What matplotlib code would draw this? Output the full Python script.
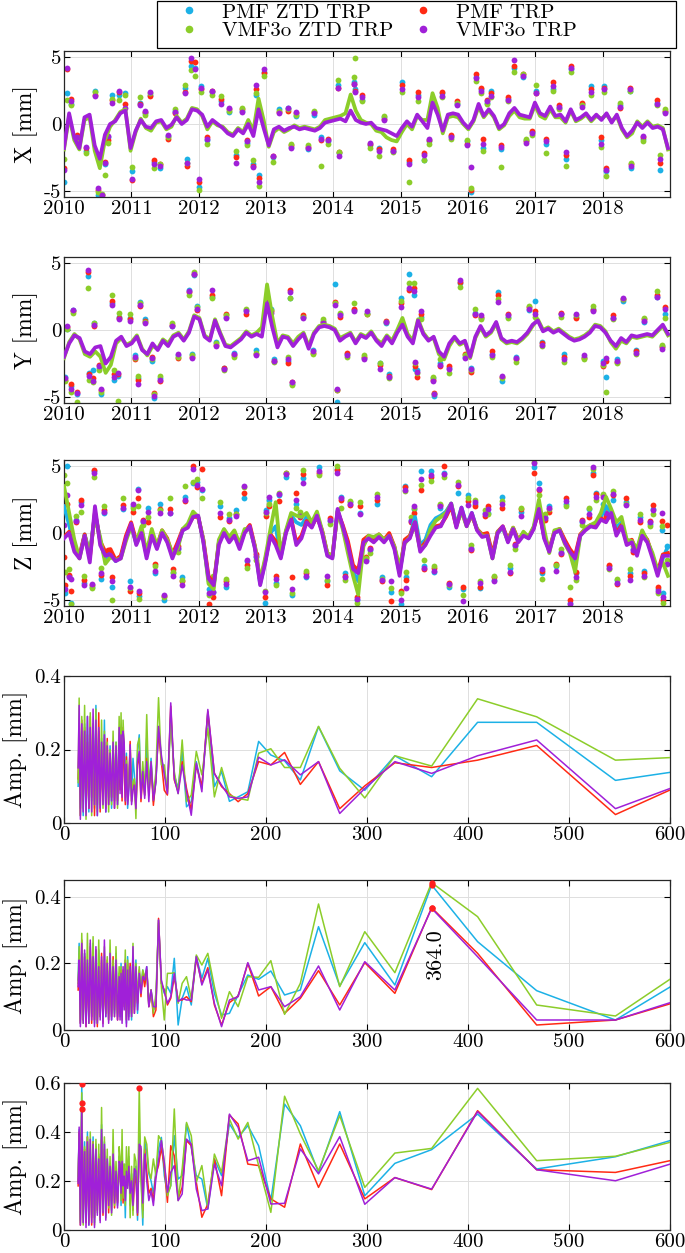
import numpy as np
import matplotlib.pyplot as plt
from matplotlib.lines import Line2D
from matplotlib.patches import Rectangle

plt.rcParams['font.family'] = ['cmr10', 'DejaVu Serif']
plt.rcParams['mathtext.fontset'] = 'cm'
plt.rcParams['axes.unicode_minus'] = False
plt.rcParams['axes.formatter.use_mathtext'] = True

SERIES = ['PMF ZTD TRP', 'PMF TRP', 'VMF3o ZTD TRP', 'VMF3o TRP']
COLORS = ['#1cb1e6', '#ff2a14', '#8ccd2a', '#a020d8']

year_ticks = [2010, 2011, 2012, 2013, 2014, 2015, 2016, 2017, 2018]
year_labels = ['2010', '2011', '2012', '2013', '2014', '2015', '2016', '2017', '2018']

# ---------------- X component: smoothed lines ----------------
x_line_purple = [
    -1.8, 0.8, -1.0, -1.8, 0.5, 0.7, -1.6, -2.6, -0.8, 0.0, 0.2, 0.8, 1.0,
    -1.8, -0.5, 0.3, -0.2, -0.3, 0.2, 0.3, -0.3, -0.05, 0.5, 0.0, 0.3, 1.1,
    1.0, 0.7, -0.2, 0.3, 0.0, -0.3, -0.7, -0.9, -0.4, -0.7, 0.0, -0.9, 1.1,
    -0.3, -1.6, -0.4, -0.2, -0.5, -0.3, -0.2, -0.4, -0.3, -0.4, -0.5, -0.3, 0.1,
    0.2, 0.3, 0.4, 0.2, 1.0, 0.3, 0.1, 0.0, 0.1, -0.3, -0.4, -0.5, -0.7, -0.9,
    -0.3, 0.2, -0.2, 0.7, 0.2, -0.3, 1.6, 0.7, -0.5, 0.7, 0.8, 0.7, 0.1,
    -0.3, 0.3, 1.5, 0.6, 1.1, 0.6, -0.3, 0.0, 0.8, 1.2, 0.7, 0.6, 0.5,
    1.6, 0.8, 0.6, 1.3, 0.6, 0.7, 0.2, 1.1, 0.3, 0.5, 0.8, 0.3, 0.7,
    0.3, 0.8, 0.1, 0.7, -0.3, -0.9, -0.5, 0.1, -0.3, 0.1, -0.3, -0.2, -0.4, -1.8]
x_line_green = [
    -1.9, 0.6, -1.2, -1.9, 0.3, 0.5, -2.0, -3.3, -1.2, -0.2, 0.3, 0.9, 1.1,
    -2.0, -0.6, 0.4, -0.3, -0.5, 0.1, 0.2, -0.4, -0.2, 0.6, 0.1, 0.4, 1.2,
    1.1, 0.6, -0.4, 0.2, -0.1, -0.2, -0.6, -0.8, -0.3, -0.6, 0.3, -0.5, 1.9,
    0.3, -1.7, -0.6, -0.3, -0.6, -0.4, -0.1, -0.3, -0.2, -0.3, -0.4, -0.2, 0.3,
    0.4, 0.5, 0.6, 0.8, 2.2, 1.0, 0.3, 0.1, 0.0, -0.5, -0.6, -1.0, -1.2, -1.3,
    -0.6, 0.0, -0.4, 0.6, 0.3, 0.3, 2.3, 1.2, -0.7, 0.5, 0.6, 0.5, 0.0,
    -0.4, 0.2, 1.3, 0.5, 1.0, 0.5, -0.4, -0.1, 0.6, 1.0, 0.5, 0.4, 0.4,
    1.4, 0.6, 0.4, 1.1, 0.5, 0.5, 0.1, 1.0, 0.2, 0.4, 0.7, 0.2, 0.6,
    0.4, 0.7, 0.2, 0.6, -0.4, -1.0, -0.7, 0.2, -0.2, 0.2, -0.2, -0.1, -0.3, -1.9]

# X component: daily solutions (scattered dots)
x_dot_t = [
    2010.00, 2010.05, 2010.10, 2010.46, 2010.51, 2010.56, 2010.61, 2010.71, 2010.81, 2010.90,
    2011.01, 2011.13, 2011.28, 2011.33, 2011.43, 2011.80, 2011.83, 2011.88, 2011.95, 2012.00,
    2012.03, 2012.20, 2012.33, 2012.55, 2012.65, 2012.80, 2012.85, 2012.90, 2012.97, 2013.10,
    2013.32, 2013.37, 2013.62, 2013.82, 2014.07, 2014.09, 2014.30, 2014.32, 2014.42, 2014.68,
    2014.88, 2015.02, 2015.12, 2015.25, 2015.35, 2015.62, 2015.84, 2015.99, 2016.04, 2016.12,
    2016.20, 2016.22, 2016.34, 2016.49, 2016.69, 2016.81, 2016.86, 2017.01, 2017.16, 2017.26,
    2017.46, 2017.53, 2017.83, 2017.98, 2018.02, 2018.05, 2018.40, 2018.42, 2018.80, 2018.85,
    2018.92,
    2010.20, 2010.33, 2010.66, 2011.20, 2011.55, 2011.65, 2012.12, 2012.45, 2012.72, 2013.20,
    2013.45, 2013.72, 2013.92, 2014.55, 2014.75, 2015.42, 2015.75, 2016.28, 2016.60, 2016.95,
    2017.35, 2017.70, 2018.25, 2018.60]
x_dot_cyan = [
    -4.3, 2.3, 1.5, 2.5, -5.3, -5.5, -3.0, 2.2, 2.2, 2.3,
    -3.5, 1.6, 2.2, -2.8, -3.3, 2.7, -2.6, 4.3, 4.2, -4.7,
    2.8, 2.4, 1.7, -2.3, 1.0, -3.0, 2.2, -3.8, 3.9, -2.5,
    1.2, -1.7, -1.9, -1.0, 2.9, -2.2, 3.1, 2.6, 1.8, -1.8,
    -2.0, 3.1, -2.8, 2.2, -2.7, 2.3, 1.5, -1.3, -5.1, 3.5,
    2.6, -1.8, 2.5, -1.9, 4.2, 3.5, -1.2, 2.5, -1.5, 2.6,
    -2.6, 4.1, 2.8, -1.2, 2.8, -3.5, 2.5, -3.3, 1.6, -3.4,
    0.9,
    -0.9, -2.0, -1.0, 0.8, -0.9, 1.0, -1.2, 0.9, -1.4, 1.1,
    0.6, 0.7, -1.3, -1.6, 0.5, -1.3, -0.9, 1.6, 1.9, -0.6,
    1.2, 1.5, 1.4, -1.1]
x_dot_red = [
    -3.3, 4.1, 1.9, 2.2, -4.9, -5.3, -2.8, 1.8, 2.4, 1.5,
    -4.2, 1.5, 2.1, -2.7, -3.0, 2.4, -3.1, 4.7, 4.6, -4.3,
    2.6, 2.5, 1.9, -2.5, 1.1, -3.1, 2.6, -4.0, 3.8, -2.4,
    1.0, -1.6, -1.7, -1.2, 2.7, -2.1, 3.0, 2.5, 2.2, -1.9,
    -1.9, 2.9, -2.7, 2.4, -2.2, 2.4, 1.7, -1.5, -4.9, 3.7,
    2.7, -1.1, 2.3, -1.6, 4.3, 3.7, -1.3, 2.3, -1.1, 3.1,
    -2.3, 4.3, 2.6, -1.0, 2.7, -3.3, 2.7, -3.0, 1.8, -2.9,
    1.0,
    -0.8, -1.8, -1.2, 0.9, -1.1, 0.8, -1.0, 1.1, -1.2, 0.9,
    0.8, 0.9, -1.1, -1.5, 0.4, -1.2, -0.8, 1.8, 2.0, -0.5,
    1.4, 1.6, 1.2, -1.0]
x_dot_green = [
    -2.6, 1.8, 1.4, 2.4, -5.1, -5.2, -3.8, 1.9, 1.8, 2.2,
    -3.2, 2.0, 2.3, -3.3, -3.0, 2.9, -2.9, 4.0, 3.6, -4.9,
    2.4, 2.2, 2.1, -2.0, 1.2, -2.7, 2.3, -4.6, 3.6, -2.8,
    1.1, -1.5, -1.6, -3.1, 3.3, -2.1, 3.5, 4.9, 1.7, -2.4,
    -2.1, 2.4, -4.3, 1.7, -2.7, 2.0, 1.6, -1.2, -4.8, 3.2,
    2.3, -2.0, 2.0, -3.2, 3.9, 3.7, -1.1, 2.9, -2.2, 2.5,
    -3.1, 3.9, 2.2, -1.7, 2.4, -3.9, 2.5, -2.9, 1.4, -2.3,
    1.1,
    -1.2, -2.2, -1.4, 0.7, -1.0, 1.1, -1.5, 1.0, -1.6, 1.0,
    0.7, 1.0, -1.5, -1.8, 0.6, -1.5, -1.1, 1.5, 1.7, -0.8,
    1.1, 1.4, 1.6, -1.3]
x_dot_purple = [
    -3.4, 4.2, 1.7, 2.1, -4.8, -5.3, -2.9, 1.6, 2.5, 1.2,
    -4.1, 1.4, 2.4, -3.0, -3.1, 2.3, -2.9, 4.9, 4.1, -4.1,
    2.7, 2.5, 1.5, -2.9, 0.9, -3.2, 2.9, -4.3, 4.1, -2.4,
    1.2, -1.8, -1.8, -1.1, 2.7, -2.4, 3.0, 2.4, 2.0, -2.0,
    -2.0, 2.6, -3.0, 2.0, -2.3, 2.1, 1.4, -1.6, -3.2, 3.4,
    2.5, -1.5, 2.1, -1.7, 4.8, 3.6, -1.4, 2.3, -1.3, 2.8,
    -2.1, 4.2, 2.4, -1.5, 2.6, -3.4, 2.6, -3.1, 1.5, -2.6,
    0.8,
    -1.0, -1.7, -0.9, 1.0, -0.8, 0.9, -1.1, 1.2, -1.3, 0.8,
    0.9, 0.8, -1.2, -1.4, 0.3, -1.1, -1.0, 1.7, 1.8, -0.7,
    1.3, 1.3, 1.3, -0.9]

# ---------------- Y component ----------------
y_line_purple = [
    -2.0, -1.0, -0.4, -0.6, -1.6, -1.8, -1.3, -1.2, -2.5, -2.0, -0.8, -0.5, -1.2,
    -1.0, -0.5, -1.5, -1.8, -1.0, -1.5, -0.8, -1.2, -0.5, -0.3, -0.8, -0.2, 1.0,
    0.8, -0.5, -0.8, 0.7, -0.3, -1.2, -1.3, -1.0, -0.7, -0.2, -0.5, -0.3, -0.5,
    2.0, 0.2, -1.3, -0.5, -0.6, -1.2, -0.7, -0.3, -1.4, -0.3, 0.2, 0.3, 0.2,
    0.0, -0.8, -0.5, -0.3, -1.0, -0.4, -0.6, -0.2, -0.8, -1.2, -0.5, -1.0, -0.2,
    0.4, -0.5, -1.0, 0.7, -0.3, -0.8, -0.5, -1.6, -2.0, -1.0, -0.5, -1.0, -0.8,
    -2.0, -0.5, 0.3, -0.4, -0.1, 0.6, -0.6, -0.9, -0.8, -0.9, -0.6, -0.2, 0.4,
    0.7, -0.1, 0.1, -0.2, 0.0, -0.3, -0.6, -0.8, -0.7, -0.5, -0.2, 0.3, 0.2,
    -0.2, -0.8, -1.2, -0.6, -0.9, -0.4, -0.5, -0.4, -0.3, -0.4, 0.0, 0.4, -0.3]
y_line_green = [
    -2.1, -0.9, -0.3, -0.7, -1.8, -2.0, -1.6, -2.0, -3.2, -2.6, -1.0, -0.6, -1.1,
    -0.9, -0.4, -1.4, -1.9, -1.2, -1.4, -0.7, -1.0, -0.4, -0.2, -0.7, -0.1, 1.1,
    0.9, -0.4, -0.7, 0.8, -0.2, -1.1, -1.2, -0.9, -0.6, -0.1, -0.4, -0.2, 0.2,
    3.4, 1.0, -1.0, -0.4, -0.5, -1.0, -0.5, -0.2, -1.2, -0.2, 0.3, 0.4, 0.3,
    0.1, -0.6, -0.4, -0.2, -0.9, -0.3, -0.5, -0.1, -0.7, -1.0, -0.4, -0.8, 0.0,
    0.9, -0.3, -0.8, 0.8, -0.2, -0.7, -0.6, -1.8, -2.2, -1.2, -0.6, -1.1, -0.9,
    -2.1, -0.6, 0.2, -0.5, -0.2, 0.5, -0.7, -1.0, -0.9, -1.0, -0.7, -0.3, 0.3,
    0.8, 0.0, 0.2, -0.1, 0.1, -0.2, -0.5, -0.7, -0.6, -0.4, -0.1, 0.4, 0.3,
    -0.1, -0.9, -1.4, -0.8, -1.0, -0.5, -0.6, -0.5, -0.4, -0.5, -0.1, 0.3, -0.4]

y_dot_t = [
    2010.02, 2010.04, 2010.10, 2010.14, 2010.20, 2010.35, 2010.37, 2010.43, 2010.45, 2010.52,
    2010.55, 2010.72, 2010.74, 2010.80, 2010.82, 2010.98, 2011.05, 2011.10, 2011.13, 2011.20,
    2011.30, 2011.33, 2011.42, 2011.60, 2011.70, 2011.85, 2011.90, 2011.93, 2011.98, 2012.20,
    2012.25, 2012.38, 2012.40, 2012.52, 2012.70, 2012.85, 2013.02, 2013.08, 2013.12, 2013.33,
    2013.35, 2013.38, 2013.55, 2013.70, 2013.85, 2014.02, 2014.05, 2014.10, 2014.20, 2014.30,
    2014.45, 2014.50, 2014.70, 2014.78, 2014.82, 2015.00, 2015.12, 2015.20, 2015.22, 2015.24,
    2015.30, 2015.48, 2015.50, 2015.58, 2015.72, 2015.88, 2015.95, 2016.05, 2016.10, 2016.20,
    2016.35, 2016.45, 2016.50, 2016.60, 2016.72, 2016.90, 2017.00, 2017.10, 2017.38, 2017.42,
    2017.60, 2017.72, 2017.85, 2018.00, 2018.05, 2018.15, 2018.22, 2018.30, 2018.50, 2018.62,
    2018.80, 2018.88, 2018.93]
y_dot_cyan = [
    -3.5, 0.1, -4.2, 1.5, -4.8, 4.0, -3.2, -3.0, 0.5, -2.8,
    -4.8, 2.0, -3.7, -3.4, 1.0, 0.9, -1.9, -3.6, 2.1, 0.8,
    -2.3, -5.1, -3.6, 0.3, -1.9, 3.0, -1.8, 4.1, 1.8, 2.5,
    -0.9, -2.8, 1.0, -1.7, 1.5, -1.5, 2.1, 1.6, -2.2, -2.3,
    2.4, -4.0, 1.0, -1.5, 0.7, 3.4, -5.4, 1.2, -1.8, 1.5,
    -2.1, 1.3, -2.5, 0.5, -3.3, 2.4, 4.2, 2.6, -2.9, -3.0,
    1.0, -3.6, -4.9, -2.5, -2.8, 3.5, -2.0, -2.8, 1.3, 0.9,
    -1.8, 2.8, -3.8, 1.0, -2.0, 1.5, 2.2, -0.9, 1.2, -1.8,
    1.0, -2.0, 1.6, -2.3, -3.5, 0.9, -2.2, 2.2, -1.5, 0.6,
    2.5, -1.2, 1.2]
y_dot_red = [
    -3.7, 0.2, -4.0, 1.4, -4.6, 4.3, -3.3, -3.6, 0.3, -2.6,
    -4.5, 2.2, -3.3, -3.3, 0.9, 0.8, -2.2, -3.7, 1.8, 0.7,
    -2.0, -4.7, -3.8, 0.4, -2.1, 2.8, -2.0, 4.2, 1.5, 2.6,
    -1.1, -2.8, 1.2, -1.9, 1.2, -1.8, 2.2, 1.4, -2.3, -2.5,
    3.0, -3.9, 1.1, -1.7, 0.6, 2.1, -4.5, 1.0, -1.7, 1.6,
    -2.0, 1.2, -2.6, 0.7, -3.4, 2.0, 3.0, 3.1, -2.7, -3.5,
    1.2, -3.7, -4.7, -2.7, -2.7, 3.6, -1.8, -3.1, 1.1, 1.0,
    -1.6, 2.6, -3.5, 1.2, -2.2, 1.7, 1.4, -1.0, 1.3, -2.0,
    0.9, -2.1, 1.5, -2.7, -2.3, 1.1, -2.4, 2.3, -1.6, 0.8,
    2.6, -1.3, 1.7]
y_dot_green = [
    -3.8, 0.1, -4.6, 1.3, -5.4, 3.1, -3.7, -3.9, 0.5, -3.0,
    -4.6, 2.6, -3.0, -5.3, 1.3, 1.2, -2.1, -3.4, 2.0, 0.6,
    -2.2, -4.8, -3.4, 0.5, -2.0, 2.6, -1.9, 4.3, 1.7, 2.4,
    -1.0, -3.0, 1.1, -2.0, 1.6, -1.7, 2.5, 1.5, -2.4, -2.0,
    2.4, -4.1, 1.0, -1.8, 0.8, 2.0, -4.5, 1.3, -2.0, 2.0,
    -1.9, 1.2, -2.5, 0.6, -3.6, 2.2, 3.5, 3.5, -2.5, -3.2,
    0.8, -3.5, -4.8, -2.2, -3.2, 3.2, -1.9, -3.0, 1.6, 0.8,
    -2.0, 2.3, -3.6, 0.9, -2.4, 1.8, 1.0, -1.2, 1.0, -2.4,
    1.1, -2.2, 1.8, -2.6, -4.6, 0.8, -2.5, 2.3, -1.8, 0.9,
    2.9, -1.1, 0.9]
y_dot_purple = [
    -3.6, 0.3, -4.4, 1.5, -4.7, 4.5, -3.4, -3.8, 0.4, -2.7,
    -4.4, 1.9, -3.5, -3.2, 0.8, 0.7, -2.0, -4.0, 1.9, 0.5,
    -2.1, -4.9, -3.7, 0.3, -1.8, 2.9, -2.1, 4.2, 1.6, 3.0,
    -1.2, -2.9, 0.9, -1.8, 1.4, -1.9, 2.0, 1.3, -2.3, -2.2,
    2.8, -3.9, 0.9, -1.6, 0.5, 1.9, -4.4, 1.1, -1.9, 1.4,
    -2.2, 1.4, -2.9, 0.6, -3.5, 1.7, 3.1, 2.9, -2.4, -3.1,
    1.4, -3.8, -4.8, -2.6, -2.9, 3.7, -2.1, -2.9, 1.2, 1.1,
    -1.9, 2.1, -3.4, 1.1, -2.1, 1.6, 1.2, -1.1, 1.2, -2.2,
    1.2, -1.9, 1.4, -2.5, -2.1, 0.9, -2.3, 2.4, -1.7, 0.7,
    2.5, -1.4, 1.6]

# ---------------- Z component ----------------
z_line_cyan = [
    2.0, 0.6, -1.0, -1.8, -0.1, -1.6, 1.5, -0.5, -2.0, -1.6, -2.1, -1.8, -0.4,
    0.6, -0.8, 0.3, -1.7, 0.1, -1.1, 0.1, -0.6, -1.7, -1.0, 0.2, 0.5, 1.4,
    1.2, -0.6, -3.6, -4.0, -0.7, 0.2, -0.5, 0.1, -1.0, 0.2, 0.4, -1.1, -3.8,
    -2.1, 0.0, 0.5, -1.8, 0.1, 1.3, 0.8, 0.6, 1.2, 0.6, 1.4, 0.1, -1.6,
    -1.8, 1.7, 0.4, -1.1, -2.9, -3.6, -0.8, -0.3, -0.5, -0.2, -0.6, -0.1, -1.1, -3.0,
    -0.6, -0.3, 1.2, -0.9, -0.5, 0.6, 1.1, 1.3, 1.6, 2.2, 0.6, 1.9, 0.6,
    1.5, 0.3, -0.2, -0.1, -1.8, 0.0, 0.4, -0.6, 0.3, -0.6, -0.1, -0.4, 0.4,
    2.0, -0.3, -1.3, 0.0, 0.2, -0.6, -1.3, -2.3, -0.2, 0.3, 0.5, 0.5, 1.2,
    2.0, 1.6, 0.4, 0.8, -0.6, -0.6, -1.4, 0.1, -0.6, -1.7, -2.9, -1.9, -1.0]
z_line_red = [
    -0.3, 0.1, -1.2, -1.7, -0.1, -1.9, 1.6, -0.6, -1.4, -1.2, -2.0, -1.7, -0.2,
    0.8, -0.6, 0.2, -1.6, 0.0, -1.0, 0.2, -0.4, -1.6, -0.7, 0.3, 0.5, 1.2,
    1.2, -0.5, -3.2, -3.8, -0.7, 0.1, -0.5, 0.0, -1.0, 0.1, 0.6, -1.0, -3.6,
    -2.0, -0.1, -0.6, -1.6, 0.1, 1.1, -0.7, -0.2, 0.9, 0.5, 1.2, 0.2, -1.5,
    -1.7, 1.6, 0.6, -0.6, -2.4, -2.8, -0.5, -0.2, -0.5, -0.1, -0.5, 0.0, -1.0, -2.9,
    -0.5, -0.2, 0.8, -1.2, -0.7, 0.0, 0.5, 0.6, 1.2, 2.0, 0.5, 1.7, 0.6,
    1.3, 0.3, -0.1, 0.0, -1.6, 0.1, 0.5, -0.5, 0.4, -0.5, 0.0, -0.3, 0.4,
    1.6, -0.2, -1.2, 0.1, 0.3, -0.5, -1.2, -1.7, -0.1, 0.3, 0.6, 0.5, 1.1,
    0.9, 1.4, 0.0, 0.6, -0.7, -0.5, -1.5, 0.0, -0.5, -1.7, -2.9, -1.6, -1.5]
z_line_green = [
    3.5, 1.5, -0.5, -1.9, -0.2, -1.5, 1.2, -0.3, -2.3, -1.8, -2.0, -1.9, -0.6,
    0.5, -0.7, 0.5, -1.5, 0.3, -1.0, 0.2, -0.5, -1.5, -1.2, 0.3, 0.7, 1.6,
    1.2, -0.5, -3.8, -4.2, -0.5, 0.3, -0.3, 0.2, -0.8, 0.3, 0.3, -1.0, -3.6,
    -1.8, 0.3, 2.3, -1.6, 0.2, 1.5, 1.3, 1.2, 1.5, 0.8, 1.6, 0.2, -1.5,
    -1.7, 1.6, 0.3, -1.5, -3.2, -4.6, -1.0, -0.2, -0.3, -0.1, -0.5, -0.2, -1.0, -2.5,
    -0.8, -0.3, 0.6, -1.2, -0.9, 0.3, 0.9, 1.2, 1.5, 2.2, 0.6, 1.6, 0.5,
    1.4, 0.3, -0.2, -0.2, -1.9, 0.1, 0.4, -0.6, 0.4, -0.6, 0.1, -0.3, 0.5,
    2.5, 0.3, -1.5, 0.2, 0.3, -0.8, -1.5, -2.9, -0.2, 0.4, 0.6, 0.8, 1.5,
    2.7, 1.8, 0.8, 1.2, -0.5, -0.6, -1.2, 0.2, -0.6, -1.5, -2.8, -2.2, -3.2]
z_line_purple = [
    -0.4, 0.0, -1.4, -1.9, -0.2, -2.2, 2.0, -0.9, -1.7, -1.6, -2.1, -1.9, -0.4,
    0.7, -0.9, 0.0, -1.9, -0.2, -1.2, 0.0, -0.7, -1.9, -0.9, 0.2, 0.4, 1.2,
    1.3, -0.7, -3.4, -3.9, -0.9, 0.0, -0.7, -0.2, -1.2, 0.0, 0.5, -1.2, -3.9,
    -2.2, -0.2, -0.9, -1.9, 0.0, 1.0, -0.9, -0.4, 0.8, 0.4, 1.3, 0.0, -1.7,
    -1.9, 1.8, 0.5, -0.9, -2.7, -3.0, -0.7, -0.4, -0.7, -0.3, -0.7, -0.2, -1.2, -3.2,
    -0.7, -0.4, 0.8, -1.4, -0.9, -0.2, 0.4, 0.5, 1.3, 2.2, 0.4, 1.9, 0.5,
    1.5, 0.2, -0.3, -0.2, -1.9, 0.0, 0.5, -0.7, 0.3, -0.7, -0.2, -0.4, 0.3,
    1.8, -0.4, -1.4, 0.0, 0.2, -0.7, -1.4, -1.9, -0.2, 0.2, 0.5, 0.4, 1.0,
    0.8, 1.5, -0.2, 0.5, -0.9, -0.7, -1.7, -0.2, -0.7, -1.9, -3.2, -1.7, -1.7]

z_dot_t = [
    2010.00, 2010.01, 2010.04, 2010.08, 2010.10, 2010.25, 2010.30, 2010.45, 2010.42, 2010.55,
    2010.60, 2010.72, 2010.88, 2010.98, 2011.03, 2011.10, 2011.12, 2011.25, 2011.35, 2011.42,
    2011.48, 2011.58, 2011.62, 2011.75, 2011.80, 2011.92, 2011.98, 2012.05, 2012.15, 2012.22,
    2012.32, 2012.40, 2012.55, 2012.68, 2012.72, 2012.98, 2013.00, 2013.05, 2013.15, 2013.20,
    2013.30, 2013.38, 2013.45, 2013.55, 2013.60, 2013.78, 2013.90, 2014.05, 2014.12, 2014.18,
    2014.25, 2014.35, 2014.40, 2014.48, 2014.65, 2014.72, 2014.85, 2015.00, 2015.06, 2015.08,
    2015.20, 2015.30, 2015.35, 2015.45, 2015.50, 2015.65, 2015.72, 2015.85, 2015.92, 2016.00,
    2016.10, 2016.18, 2016.30, 2016.38, 2016.50, 2016.62, 2016.78, 2016.98, 2017.05, 2017.10,
    2017.20, 2017.30, 2017.45, 2017.52, 2017.60, 2017.80, 2017.85, 2017.90, 2018.00, 2018.10,
    2018.15, 2018.22, 2018.35, 2018.40, 2018.55, 2018.62, 2018.75, 2018.82, 2018.88, 2018.90,
    2018.95,
    2010.18, 2010.65, 2011.18, 2011.70, 2012.45, 2012.85, 2013.50, 2013.95, 2014.55, 2015.15,
    2015.58, 2016.05, 2016.25, 2016.70, 2017.15, 2017.38, 2017.70, 2018.05, 2018.45, 2018.70]
z_dot_cyan = [
    2.3, -4.5, 5.0, -3.2, -5.2, 2.3, -3.7, 4.6, -4.0, -3.4,
    1.5, -4.0, 1.8, -3.6, 2.0, 3.3, -4.7, 1.9, -3.0, 2.2,
    -5.0, 1.5, -3.0, -3.3, 2.7, 3.7, 3.8, 3.2, -4.2, -4.4,
    2.0, -4.0, 1.7, 2.6, -2.1, -5.2, 1.7, 2.5, -3.7, 2.8,
    4.2, -4.6, 2.2, 4.1, -3.3, 4.9, -3.6, 4.8, 2.7, -3.0,
    2.3, -5.0, 1.5, -2.0, 2.2, -3.3, -4.4, -5.3, 3.5, -3.3,
    1.8, 4.6, -2.5, 4.6, -2.9, 4.5, -4.0, 3.0, -4.2, 2.8,
    2.2, -4.1, 1.5, -3.5, 2.7, -2.6, 1.6, 4.9, 3.7, -3.0,
    2.0, -2.5, 2.2, -5.2, -3.0, 1.8, 4.5, 3.0, 2.2, -2.5,
    2.5, -3.5, 2.3, -3.0, 1.2, -2.8, 1.8, -4.2, 0.2, -4.5,
    -1.0,
    1.0, -1.5, 0.8, -1.2, 1.1, -1.8, 1.4, 0.9, -1.3, 1.0,
    1.9, -1.1, 1.5, -1.0, 1.2, -1.4, 0.8, 1.6, -1.2, 0.7]
z_dot_red = [
    -1.8, -3.9, 2.2, -3.1, -4.3, 2.5, -3.5, 4.7, -3.9, -3.1,
    1.7, -3.3, 2.1, -4.3, 1.6, 2.6, -4.5, 0.8, -2.3, 1.8,
    -4.7, 1.8, -2.7, -3.6, 2.4, 5.0, 3.4, 4.8, -5.3, -4.8,
    1.2, -3.6, 1.4, 3.0, -2.4, -4.8, 1.3, 2.0, -3.2, 2.4,
    4.5, -3.3, 3.0, 4.4, -3.0, 4.5, -3.9, 4.7, 2.5, -3.2,
    2.1, -4.8, 2.0, -1.8, 2.5, -3.6, -5.1, -4.3, 3.4, -3.5,
    1.5, 3.2, -2.7, 4.2, -2.6, 5.0, -3.7, 3.5, -4.0, 2.4,
    2.0, -4.0, 2.0, -3.3, 1.9, -3.0, 1.8, 4.5, 3.2, -2.8,
    1.6, -2.3, 2.6, -5.0, -2.9, 1.2, 4.3, 2.9, 2.8, -2.4,
    2.8, -3.8, 2.6, -3.2, 0.8, -3.0, 2.1, -4.0, 0.9, -5.0,
    0.6,
    0.8, -1.3, 1.0, -1.0, 0.9, -1.6, 1.2, 1.1, -1.1, 0.8,
    2.1, -1.3, 1.3, -0.8, 1.0, -1.6, 1.0, 1.3, -1.4, 0.9]
z_dot_green = [
    4.3, -2.9, 3.7, -2.7, -5.3, 1.6, -3.2, 4.2, -4.1, -2.6,
    2.0, -5.0, 2.6, -4.1, 1.9, 2.0, -4.9, 1.2, -2.5, 1.7,
    -4.8, 2.6, -2.9, -3.5, 3.5, 3.8, 4.0, 2.6, -4.6, -3.2,
    2.3, -3.4, 1.4, 3.4, -2.6, -4.3, 1.5, 2.2, -3.9, 3.0,
    4.5, -4.5, 1.9, 4.7, -2.8, 4.3, -3.5, 5.0, 1.9, -3.5,
    2.4, -5.2, 2.3, -1.9, 2.9, -3.4, -4.1, -4.5, 3.1, -2.9,
    1.9, 3.6, -2.0, 3.9, -2.5, 4.2, -3.9, 3.8, -4.6, 2.6,
    2.5, -3.6, 1.4, -3.2, 2.4, -2.4, 1.9, 5.3, 2.8, -3.4,
    1.8, -2.4, 2.0, -4.0, -3.5, 1.9, 4.8, 2.5, 2.9, -2.7,
    3.1, -3.4, 2.2, -2.7, 1.4, -3.3, 1.4, -4.5, 0.5, -5.2,
    -2.0,
    1.3, -1.7, 0.6, -1.4, 1.4, -2.0, 1.6, 0.7, -1.5, 1.2,
    2.2, -0.9, 1.7, -1.2, 1.4, -1.2, 0.6, 1.8, -1.0, 0.5]
z_dot_purple = [
    0.6, -4.2, 2.8, -3.3, -3.4, 2.1, -3.9, 4.5, -3.8, -3.0,
    1.6, -3.6, 1.9, -4.0, 2.2, 3.2, -4.3, 1.6, -2.8, 1.5,
    -4.6, 1.5, -3.2, -3.9, 2.5, 4.8, 3.6, 3.3, -4.5, -4.4,
    1.5, -3.8, 1.3, 3.5, -2.0, -4.4, 1.6, 2.7, -3.4, 2.9,
    4.4, -4.2, 2.5, 3.7, -3.2, 4.6, -3.2, 4.5, 2.6, -3.3,
    2.2, -4.9, 1.4, -2.1, 2.7, -3.5, -3.6, -5.0, 3.2, -4.1,
    2.0, 4.0, -2.6, 4.3, -2.8, 4.4, -3.8, 3.6, -5.1, 2.1,
    2.3, -3.7, 1.8, -3.6, 2.2, -2.9, 1.3, 5.2, 3.3, -2.7,
    1.9, -2.8, 2.4, -5.3, -3.3, 1.4, 4.9, 2.7, 2.7, -2.6,
    2.9, -3.7, 2.1, -3.5, 1.0, -3.2, 1.7, -4.3, 1.5, -4.8,
    -2.3,
    0.9, -1.4, 0.9, -1.1, 1.0, -1.7, 1.3, 1.0, -1.2, 0.9,
    2.0, -1.2, 1.4, -0.9, 1.1, -1.5, 0.9, 1.5, -1.3, 0.8]

# ---------------- Amplitude spectra (period in days) ----------------
amp_period = [
    655.2, 546.0, 468.0, 409.5, 364.0, 327.6, 297.8, 273.0, 252.0, 234.0,
    218.4, 204.8, 192.7, 182.0, 172.4, 163.8, 156.0, 148.9, 142.4, 136.5,
    131.0, 126.0, 121.3, 117.0, 113.0, 109.2, 105.7, 102.4, 99.3, 96.4,
    93.6, 91.0, 88.5, 86.2, 84.0, 81.9, 79.9, 78.0, 76.2, 74.5,
    72.8, 71.2, 69.7, 68.3, 66.9, 65.5, 64.2, 63.0, 61.8, 60.7,
    59.6, 58.5, 57.5, 56.5, 55.5,
    54.6, 53.0, 51.5, 50.0, 48.6, 47.1, 45.6, 44.2, 42.8, 41.4,
    40.0, 38.6, 37.2, 35.8, 34.4, 33.0, 31.6, 30.2, 28.8, 27.4,
    26.0, 24.6, 23.2, 21.8, 20.4, 19.0, 17.6, 16.2, 15.0, 14.0]

x_amp_cyan = [
    0.16, 0.116, 0.274, 0.274, 0.126, 0.183, 0.089, 0.142, 0.262, 0.117,
    0.169, 0.185, 0.222, 0.085, 0.071, 0.059, 0.14, 0.099, 0.30, 0.094,
    0.167, 0.058, 0.044, 0.195, 0.094, 0.131, 0.29, 0.094, 0.14, 0.176,
    0.258, 0.112, 0.058, 0.176, 0.094, 0.231, 0.085, 0.149, 0.076, 0.24,
    0.195, 0.048, 0.131, 0.176, 0.073, 0.19, 0.10, 0.04, 0.19, 0.11,
    0.18, 0.20, 0.08, 0.25, 0.10,
    0.20, 0.05, 0.22, 0.06, 0.19, 0.04, 0.21, 0.07, 0.18, 0.03,
    0.28, 0.05, 0.23, 0.08, 0.25, 0.02, 0.32, 0.04, 0.26, 0.06,
    0.24, 0.03, 0.29, 0.05, 0.27, 0.02, 0.25, 0.04, 0.21, 0.10]
x_amp_red = [
    0.158, 0.023, 0.211, 0.171, 0.151, 0.164, 0.101, 0.039, 0.167, 0.105,
    0.192, 0.158, 0.167, 0.08, 0.058, 0.08, 0.099, 0.135, 0.304, 0.099,
    0.158, 0.035, 0.094, 0.167, 0.085, 0.117, 0.318, 0.076, 0.089, 0.167,
    0.249, 0.121, 0.048, 0.158, 0.076, 0.176, 0.076, 0.131, 0.058, 0.185,
    0.158, 0.039, 0.112, 0.094, 0.06, 0.222, 0.11, 0.07, 0.18, 0.05,
    0.15, 0.26, 0.06, 0.22, 0.09,
    0.18, 0.06, 0.20, 0.04, 0.21, 0.07, 0.17, 0.05, 0.23, 0.04,
    0.22, 0.06, 0.20, 0.03, 0.30, 0.05, 0.26, 0.02, 0.24, 0.07,
    0.29, 0.04, 0.22, 0.03, 0.26, 0.06, 0.28, 0.02, 0.24, 0.12]
x_amp_green = [
    0.185, 0.171, 0.289, 0.338, 0.155, 0.183, 0.068, 0.149, 0.263, 0.151,
    0.151, 0.202, 0.19, 0.062, 0.067, 0.076, 0.151, 0.071, 0.258, 0.131,
    0.195, 0.076, 0.058, 0.226, 0.08, 0.14, 0.277, 0.085, 0.158, 0.158,
    0.341, 0.14, 0.076, 0.167, 0.085, 0.295, 0.076, 0.167, 0.085, 0.231,
    0.213, 0.012, 0.121, 0.112, 0.058, 0.204, 0.12, 0.06, 0.17, 0.13,
    0.20, 0.28, 0.10, 0.30, 0.12,
    0.29, 0.04, 0.22, 0.07, 0.25, 0.05, 0.20, 0.03, 0.22, 0.06,
    0.25, 0.04, 0.28, 0.05, 0.22, 0.03, 0.31, 0.05, 0.27, 0.02,
    0.30, 0.06, 0.24, 0.01, 0.32, 0.04, 0.29, 0.02, 0.34, 0.11]
x_amp_purple = [
    0.15, 0.039, 0.226, 0.183, 0.135, 0.167, 0.094, 0.026, 0.167, 0.131,
    0.172, 0.158, 0.179, 0.071, 0.067, 0.071, 0.103, 0.135, 0.309, 0.085,
    0.163, 0.021, 0.085, 0.158, 0.08, 0.121, 0.327, 0.08, 0.131, 0.185,
    0.263, 0.112, 0.062, 0.167, 0.058, 0.167, 0.067, 0.14, 0.067, 0.195,
    0.167, 0.039, 0.103, 0.089, 0.05, 0.213, 0.09, 0.05, 0.16, 0.06,
    0.22, 0.25, 0.07, 0.24, 0.08,
    0.26, 0.05, 0.21, 0.04, 0.22, 0.06, 0.19, 0.05, 0.21, 0.03,
    0.24, 0.05, 0.22, 0.04, 0.26, 0.02, 0.28, 0.05, 0.31, 0.03,
    0.26, 0.04, 0.29, 0.02, 0.25, 0.03, 0.27, 0.01, 0.32, 0.15]

y_amp_cyan = [
    0.23, 0.03, 0.118, 0.265, 0.435, 0.135, 0.262, 0.132, 0.31, 0.12,
    0.105, 0.177, 0.152, 0.165, 0.105, 0.05, 0.045, 0.11, 0.215, 0.155,
    0.22, 0.075, 0.13, 0.095, 0.015, 0.215, 0.11, 0.13, 0.11, 0.14,
    0.33, 0.07, 0.06, 0.12, 0.07, 0.19, 0.14, 0.18, 0.12, 0.17,
    0.05, 0.21, 0.07, 0.24, 0.03, 0.18, 0.04, 0.22, 0.02, 0.19,
    0.08, 0.15, 0.04, 0.20, 0.04,
    0.17, 0.04, 0.23, 0.05, 0.16, 0.03, 0.21, 0.05, 0.18, 0.04,
    0.20, 0.03, 0.15, 0.06, 0.24, 0.03, 0.19, 0.02, 0.26, 0.04,
    0.22, 0.02, 0.20, 0.05, 0.23, 0.03, 0.21, 0.02, 0.26, 0.15]
y_amp_red = [
    0.128, 0.03, 0.015, 0.23, 0.367, 0.11, 0.202, 0.075, 0.178, 0.095,
    0.05, 0.13, 0.102, 0.2, 0.102, 0.082, 0.015, 0.075, 0.187, 0.14,
    0.215, 0.085, 0.1, 0.09, 0.09, 0.16, 0.095, 0.075, 0.12, 0.14,
    0.335, 0.06, 0.04, 0.12, 0.07, 0.18, 0.13, 0.17, 0.10, 0.18,
    0.08, 0.17, 0.05, 0.23, 0.05, 0.20, 0.06, 0.20, 0.03, 0.21,
    0.07, 0.18, 0.05, 0.18, 0.06,
    0.15, 0.03, 0.19, 0.06, 0.22, 0.04, 0.17, 0.03, 0.21, 0.05,
    0.18, 0.02, 0.23, 0.04, 0.20, 0.01, 0.24, 0.03, 0.21, 0.02,
    0.25, 0.04, 0.19, 0.01, 0.22, 0.03, 0.27, 0.02, 0.21, 0.12]
y_amp_green = [
    0.265, 0.042, 0.075, 0.34, 0.442, 0.172, 0.295, 0.13, 0.378, 0.14,
    0.047, 0.208, 0.158, 0.16, 0.07, 0.115, 0.035, 0.13, 0.23, 0.195,
    0.225, 0.095, 0.16, 0.14, 0.08, 0.172, 0.17, 0.17, 0.03, 0.13,
    0.32, 0.11, 0.05, 0.12, 0.08, 0.18, 0.16, 0.18, 0.12, 0.19,
    0.09, 0.20, 0.06, 0.26, 0.04, 0.18, 0.05, 0.21, 0.04, 0.24,
    0.09, 0.17, 0.03, 0.19, 0.05,
    0.19, 0.05, 0.25, 0.04, 0.21, 0.06, 0.27, 0.03, 0.22, 0.05,
    0.25, 0.03, 0.21, 0.04, 0.27, 0.02, 0.24, 0.03, 0.28, 0.05,
    0.26, 0.02, 0.29, 0.04, 0.23, 0.02, 0.29, 0.03, 0.25, 0.14]
y_amp_purple = [
    0.135, 0.03, 0.03, 0.22, 0.365, 0.12, 0.205, 0.06, 0.192, 0.1,
    0.07, 0.13, 0.12, 0.202, 0.1, 0.09, 0.01, 0.08, 0.18, 0.135,
    0.22, 0.09, 0.09, 0.095, 0.085, 0.17, 0.1, 0.08, 0.115, 0.15,
    0.33, 0.07, 0.07, 0.12, 0.07, 0.19, 0.15, 0.16, 0.11, 0.17,
    0.06, 0.19, 0.05, 0.25, 0.04, 0.19, 0.03, 0.18, 0.01, 0.20,
    0.06, 0.19, 0.02, 0.17, 0.03,
    0.16, 0.03, 0.21, 0.04, 0.19, 0.03, 0.23, 0.02, 0.20, 0.04,
    0.27, 0.01, 0.22, 0.03, 0.19, 0.02, 0.25, 0.01, 0.22, 0.03,
    0.27, 0.02, 0.21, 0.01, 0.24, 0.02, 0.26, 0.01, 0.21, 0.13]

z_amp_cyan = [
    0.432, 0.299, 0.249, 0.473, 0.328, 0.272, 0.14, 0.483, 0.235, 0.426,
    0.514, 0.12, 0.344, 0.426, 0.378, 0.433, 0.222, 0.29, 0.086, 0.208,
    0.222, 0.337, 0.433, 0.222, 0.208, 0.385, 0.181, 0.147, 0.222, 0.378,
    0.331, 0.24, 0.15, 0.20, 0.23, 0.32, 0.36, 0.02, 0.25, 0.40,
    0.04, 0.26, 0.22, 0.13, 0.23, 0.10, 0.30, 0.22, 0.27, 0.05,
    0.25, 0.16, 0.33, 0.10, 0.26,
    0.30, 0.10, 0.25, 0.14, 0.33, 0.08, 0.27, 0.12, 0.30, 0.06,
    0.36, 0.09, 0.43, 0.05, 0.31, 0.10, 0.35, 0.03, 0.38, 0.06,
    0.33, 0.02, 0.40, 0.05, 0.36, 0.03, 0.595, 0.04, 0.41, 0.20]
z_amp_red = [
    0.332, 0.235, 0.246, 0.487, 0.165, 0.214, 0.127, 0.351, 0.174, 0.351,
    0.093, 0.127, 0.263, 0.269, 0.433, 0.469, 0.14, 0.29, 0.106, 0.052,
    0.195, 0.344, 0.365, 0.174, 0.127, 0.303, 0.344, 0.113, 0.256, 0.337,
    0.263, 0.23, 0.12, 0.17, 0.15, 0.24, 0.33, 0.08, 0.33, 0.34,
    0.06, 0.22, 0.19, 0.08, 0.21, 0.12, 0.27, 0.20, 0.25, 0.15,
    0.21, 0.11, 0.26, 0.14, 0.26,
    0.27, 0.11, 0.22, 0.09, 0.30, 0.12, 0.25, 0.07, 0.28, 0.10,
    0.33, 0.06, 0.37, 0.04, 0.30, 0.08, 0.34, 0.05, 0.36, 0.02,
    0.31, 0.04, 0.38, 0.03, 0.33, 0.05, 0.52, 0.02, 0.40, 0.18]
z_amp_green = [
    0.416, 0.301, 0.283, 0.578, 0.333, 0.314, 0.174, 0.467, 0.242, 0.392,
    0.546, 0.072, 0.263, 0.439, 0.371, 0.453, 0.235, 0.31, 0.093, 0.263,
    0.195, 0.385, 0.439, 0.249, 0.12, 0.494, 0.181, 0.14, 0.276, 0.365,
    0.385, 0.22, 0.29, 0.21, 0.24, 0.35, 0.38, 0.05, 0.20, 0.58,
    0.08, 0.28, 0.31, 0.06, 0.26, 0.05, 0.34, 0.18, 0.34, 0.10,
    0.27, 0.13, 0.41, 0.12, 0.30,
    0.34, 0.12, 0.28, 0.10, 0.41, 0.06, 0.30, 0.09, 0.33, 0.05,
    0.38, 0.08, 0.50, 0.04, 0.35, 0.07, 0.37, 0.02, 0.36, 0.05,
    0.40, 0.03, 0.38, 0.04, 0.34, 0.02, 0.56, 0.03, 0.38, 0.22]
z_amp_purple = [
    0.338, 0.201, 0.246, 0.483, 0.167, 0.214, 0.105, 0.381, 0.229, 0.331,
    0.109, 0.106, 0.297, 0.283, 0.419, 0.473, 0.181, 0.269, 0.086, 0.079,
    0.167, 0.351, 0.371, 0.147, 0.12, 0.263, 0.235, 0.154, 0.276, 0.365,
    0.283, 0.21, 0.10, 0.16, 0.12, 0.20, 0.31, 0.11, 0.34, 0.35,
    0.07, 0.24, 0.25, 0.10, 0.20, 0.15, 0.26, 0.17, 0.24, 0.12,
    0.22, 0.18, 0.28, 0.15, 0.27,
    0.28, 0.09, 0.24, 0.11, 0.31, 0.07, 0.26, 0.10, 0.29, 0.04,
    0.35, 0.07, 0.41, 0.03, 0.29, 0.06, 0.33, 0.01, 0.35, 0.03,
    0.37, 0.02, 0.36, 0.01, 0.32, 0.03, 0.495, 0.02, 0.42, 0.19]


def style_axes(ax):
    ax.grid(True, color='#dedede', lw=0.7)
    ax.set_axisbelow(True)
    ax.tick_params(direction='in', top=True, right=True, length=4, width=0.8,
                   labelsize=15, pad=2)
    for s in ax.spines.values():
        s.set_linewidth(0.9)
        s.set_color('#262626')


def time_panel(ax, dot_t, dots, lines, label):
    for k in range(4):
        ax.plot(dot_t, dots[k], 'o', ms=4.2, mew=0, color=COLORS[k], zorder=2)
    for k in range(4):
        if lines[k] is None:
            continue
        t = np.linspace(2010.0, 2018.97, len(lines[k]))
        ax.plot(t, lines[k], color=COLORS[k], lw=2.7, zorder=3 + k,
                solid_joinstyle='round')
    ax.set_xlim(2010, 2019)
    ax.set_ylim(-5.45, 5.45)
    ax.set_xticks(year_ticks)
    ax.set_xticklabels(year_labels)
    ax.set_yticks([-5, 0, 5])
    ax.set_yticklabels(['-5', '0', '5'])
    ax.set_ylabel(label, fontsize=17, labelpad=4)
    style_axes(ax)


def amp_panel(ax, amps, ytop, yticks, ylabels, flag_peaks, note_peak):
    for k in range(4):
        ax.plot(amp_period, amps[k], color=COLORS[k], lw=1.1, zorder=2 + k)
    if flag_peaks:
        for k in range(4):
            i = int(np.argmax(amps[k]))
            ax.plot(amp_period[i], amps[k][i], 'o', color='#ff1f1f', ms=4.5,
                    mew=0, zorder=10)
    if note_peak:
        best = max(range(4), key=lambda k: max(amps[k]))
        i = int(np.argmax(amps[best]))
        ax.annotate(f'{amp_period[i]:.1f}', xy=(amp_period[i], amps[best][i]),
                    xytext=(3, -52), textcoords='offset points', rotation=90,
                    ha='center', va='center', fontsize=16)
    ax.set_xlim(0, 600)
    ax.set_ylim(0, ytop)
    ax.set_xticks([0, 100, 200, 300, 400, 500, 600])
    ax.set_xticklabels(['0', '100', '200', '300', '400', '500', '600'])
    ax.set_yticks(yticks)
    ax.set_yticklabels(ylabels)
    ax.set_ylabel('Amp. [mm]', fontsize=17, labelpad=5)
    style_axes(ax)


W, H = 685, 1253
fig = plt.figure(figsize=(W / 100, H / 100), dpi=100)


def add_ax(top, bottom, left=64, right=670):
    return fig.add_axes([left / W, 1 - bottom / H, (right - left) / W, (bottom - top) / H])


ax1 = add_ax(51, 197)
ax2 = add_ax(257, 403)
ax3 = add_ax(460, 606)
ax4 = add_ax(676, 823)
ax5 = add_ax(880, 1030)
ax6 = add_ax(1083, 1230)

time_panel(ax1, x_dot_t, [x_dot_cyan, x_dot_red, x_dot_green, x_dot_purple],
           [None, None, x_line_green, x_line_purple], 'X [mm]')
time_panel(ax2, y_dot_t, [y_dot_cyan, y_dot_red, y_dot_green, y_dot_purple],
           [None, None, y_line_green, y_line_purple], 'Y [mm]')
time_panel(ax3, z_dot_t, [z_dot_cyan, z_dot_red, z_dot_green, z_dot_purple],
           [z_line_cyan, z_line_red, z_line_green, z_line_purple], 'Z [mm]')

amp_panel(ax4, [x_amp_cyan, x_amp_red, x_amp_green, x_amp_purple], 0.4,
          [0, 0.2, 0.4], ['0', '0.2', '0.4'], False, False)
amp_panel(ax5, [y_amp_cyan, y_amp_red, y_amp_green, y_amp_purple], 0.45,
          [0, 0.2, 0.4], ['0', '0.2', '0.4'], True, True)
amp_panel(ax6, [z_amp_cyan, z_amp_red, z_amp_green, z_amp_purple], 0.6,
          [0, 0.2, 0.4, 0.6], ['0', '0.2', '0.4', '0.6'], True, False)

# legend: entries without frame, box drawn separately (MATLAB-style wide box)
handles = [Line2D([], [], marker='o', ls='none', ms=5.5, mew=0, color=c) for c in COLORS]
order = [0, 2, 1, 3]
leg = fig.legend([handles[i] for i in order], [SERIES[i] for i in order],
                 ncol=2, loc='upper left', bbox_to_anchor=(166 / W, 1 - 1 / H),
                 fontsize=15, frameon=False, borderpad=0.1, labelspacing=0.0,
                 handlelength=2.0, handletextpad=0.6, columnspacing=0.4,
                 borderaxespad=0.0)
fig.patches.append(Rectangle((157 / W, 1 - 48 / H), (676 - 157) / W, 47 / H,
                             transform=fig.transFigure, fill=False,
                             ec='black', lw=0.9))

fig.savefig('out.png', dpi=100)
